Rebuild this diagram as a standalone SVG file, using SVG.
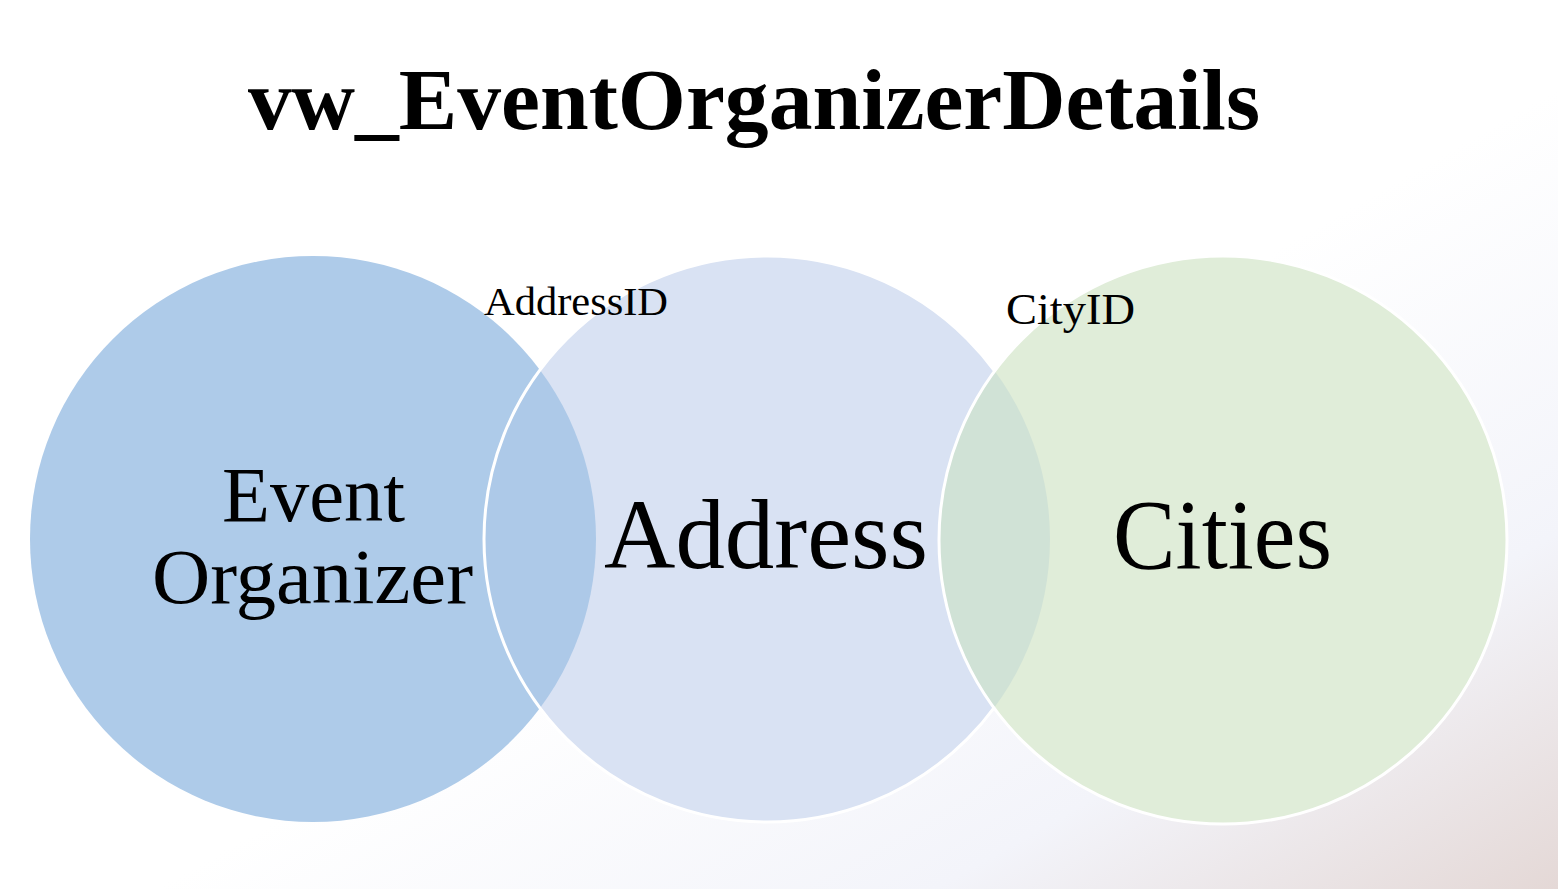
<svg xmlns="http://www.w3.org/2000/svg" width="1558" height="889" viewBox="0 0 1558 889">
  <defs>
    <linearGradient id="bg" x1="0" y1="0" x2="1" y2="1">
      <stop offset="0" stop-color="#ffffff"/>
      <stop offset="0.55" stop-color="#ffffff"/>
      <stop offset="0.8" stop-color="#f3f4fa"/>
      <stop offset="1" stop-color="#e4d8d6"/>
    </linearGradient>
    <clipPath id="clipLeft"><circle cx="313" cy="539" r="283"/></clipPath>
    <clipPath id="clipMid"><circle cx="767" cy="539" r="283"/></clipPath>
    <style>
      .lbl { font-family: "Liberation Serif", "DejaVu Serif", serif; fill: #000000; }
      .title { font-weight: bold; }
      .edge { fill: none; stroke: #ffffff; stroke-width: 3; }
    </style>
  </defs>

  <rect x="0" y="0" width="1558" height="889" fill="url(#bg)"/>

  <text class="lbl title" x="248" y="129" font-size="86" textLength="1012" lengthAdjust="spacingAndGlyphs">vw_EventOrganizerDetails</text>

  <g id="node-event-organizer">
    <circle cx="313" cy="539" r="283" fill="#aecbe9"/>
  </g>

  <g id="node-address">
    <circle cx="767" cy="539" r="283" fill="#d9e2f3"/>
  </g>

  <g id="overlap-addressid">
    <circle cx="767" cy="539" r="283" fill="#adc9e8" clip-path="url(#clipLeft)"/>
    <circle class="edge" cx="767" cy="539" r="283"/>
  </g>

  <g id="node-cities">
    <circle cx="1223" cy="540" r="284" fill="#e0edd9"/>
  </g>

  <g id="overlap-cityid">
    <circle cx="1223" cy="540" r="284" fill="#d0e2d6" clip-path="url(#clipMid)"/>
    <circle class="edge" cx="1223" cy="540" r="284"/>
  </g>

  <g id="labels">
    <text class="lbl" x="222" y="521" font-size="78" textLength="183" lengthAdjust="spacingAndGlyphs">Event</text>
    <text class="lbl" x="152" y="603" font-size="78" textLength="321" lengthAdjust="spacingAndGlyphs">Organizer</text>
    <text class="lbl" x="604" y="568" font-size="100" textLength="324" lengthAdjust="spacingAndGlyphs">Address</text>
    <text class="lbl" x="1113" y="568" font-size="100" textLength="219" lengthAdjust="spacingAndGlyphs">Cities</text>
    <text class="lbl" x="484" y="315" font-size="41" textLength="184" lengthAdjust="spacingAndGlyphs">AddressID</text>
    <text class="lbl" x="1006" y="324" font-size="45" textLength="129" lengthAdjust="spacingAndGlyphs">CityID</text>
  </g>
</svg>
